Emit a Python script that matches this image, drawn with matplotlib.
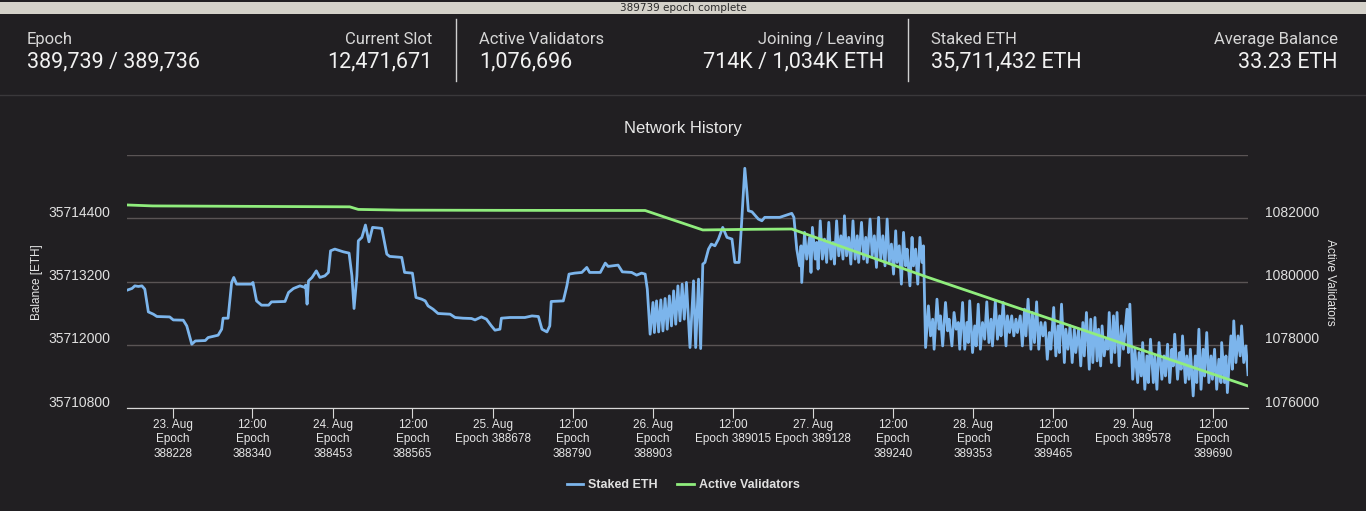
import matplotlib.pyplot as plt
from matplotlib.lines import Line2D
from matplotlib.patches import Rectangle
from matplotlib.transforms import ScaledTranslation

BG = "#211f22"
BLUE = "#7cb5ec"
GREEN = "#90ed7d"
W, H = 1366, 511

# header stats
stat_labels = ["Epoch", "Current Slot", "Active Validators", "Joining / Leaving", "Staked ETH", "Average Balance"]
stat_values = ["389,739 / 389,736", "12,471,671", "1,076,696", "714K / 1,034K ETH", "35,711,432 ETH", "33.23 ETH"]

# x axis ticks (epochs)
tick_epochs = [388228, 388340, 388453, 388565, 388678, 388790, 388903,
               389015, 389128, 389240, 389353, 389465, 389578, 389690]
tick_labels = ["23. Aug\nEpoch\n388228", "12:00\nEpoch\n388340", "24. Aug\nEpoch\n388453",
               "12:00\nEpoch\n388565", "25. Aug\nEpoch 388678", "12:00\nEpoch\n388790",
               "26. Aug\nEpoch\n388903", "12:00\nEpoch 389015", "27. Aug\nEpoch 389128",
               "12:00\nEpoch\n389240", "28. Aug\nEpoch\n389353", "12:00\nEpoch\n389465",
               "29. Aug\nEpoch 389578", "12:00\nEpoch\n389690"]

balance_ticks = [35710800, 35712000, 35713200, 35714400, 35715600]
validator_ticks = [1076000, 1078000, 1080000, 1082000, 1084000]

# Active validators
val_epoch = [388164, 388200, 388477, 388489, 388548, 388688, 388892,
             388973, 389040, 389098, 389287, 389528, 389739]
val_count = [1082420, 1082390, 1082361, 1082279, 1082257, 1082250, 1082245,
             1081630, 1081650, 1081660, 1080149, 1078307, 1076696]

# Staked ETH
eth_epoch = [
    388164, 388171, 388175, 388180, 388185, 388189, 388194, 388201, 388206, 388224,
    388229, 388243, 388248, 388255, 388260, 388274, 388278, 388292, 388297, 388299,
    388306, 388311, 388314, 388318, 388339, 388341, 388346, 388353, 388363, 388367,
    388386, 388391, 388398, 388407, 388414, 388415, 388417, 388419, 388424, 388430,
    388435, 388442, 388447, 388450, 388456, 388468, 388476, 388480, 388483, 388487,
    388489, 388494, 388499, 388504, 388509, 388522, 388529, 388533, 388550, 388554,
    388565, 388570, 388578, 388583, 388587, 388594, 388601, 388618, 388625, 388636,
    388648, 388653, 388662, 388669, 388676, 388681, 388688, 388690, 388702, 388723,
    388733, 388742, 388747, 388754, 388758, 388760, 388777, 388782, 388785, 388793,
    388803, 388810, 388814, 388829, 388836, 388840, 388854, 388860, 388873, 388880,
    388887, 388892, 388895,
    388899, 388903, 388905, 388908, 388911, 388914, 388917, 388920, 388923, 388926,
    388929, 388932, 388935, 388938, 388941, 388944, 388947, 388950, 388955, 388960,
    388963, 388967, 388970, 388973,
    388976, 388981, 388985, 388990, 388995, 389001, 389007, 389014, 389018, 389024,
    389027, 389030, 389032, 389035, 389037, 389042, 389046, 389051, 389056, 389060,
    389081, 389091, 389098, 389101, 389105,
    389109, 389111, 389112, 389116, 389119, 389123, 389125, 389127, 389131, 389133,
    389135, 389138, 389141, 389144, 389147, 389150, 389153, 389156, 389158, 389161,
    389164, 389167, 389170, 389172, 389175, 389178, 389181, 389184, 389187, 389190,
    389192, 389196, 389199, 389202, 389204, 389208, 389211, 389214, 389217, 389220,
    389223, 389226, 389229, 389232, 389235, 389238, 389241, 389244, 389246, 389249,
    389252, 389255, 389258, 389260, 389264, 389267, 389269, 389272, 389275, 389278,
    389281, 389283, 389286,
    389290, 389293, 389296, 389298, 389302, 389305, 389307, 389310, 389314, 389317,
    389319, 389323, 389326, 389329, 389332, 389334,
    389338, 389341, 389344, 389346, 389348, 389352, 389355, 389357, 389360, 389363,
    389366, 389369, 389372, 389375, 389378, 389380, 389384, 389387, 389390, 389392,
    389395, 389399, 389401, 389404, 389407, 389410, 389413, 389415, 389419, 389422,
    389425, 389427, 389430, 389434, 389436, 389439, 389442, 389445, 389448, 389451,
    389454, 389457, 389460, 389462, 389466, 389469, 389472, 389474, 389477, 389481,
    389483, 389486, 389489, 389492, 389495, 389497, 389501, 389504, 389507, 389509,
    389512, 389516, 389518, 389521, 389524, 389527, 389529, 389532, 389534, 389537,
    389540, 389542, 389544, 389547, 389550, 389552, 389555, 389558, 389561, 389564,
    389569, 389571, 389573, 389577, 389580, 389584, 389586, 389589, 389591, 389594,
    389597, 389599, 389602, 389606, 389608, 389611, 389614, 389618, 389621, 389623,
    389626, 389629, 389632, 389634, 389636, 389640, 389643, 389645, 389647, 389651,
    389653, 389656, 389658, 389662, 389665, 389667, 389670, 389673, 389676, 389678,
    389681, 389684, 389687, 389689, 389692, 389695, 389698, 389701, 389702, 389706,
    389708, 389710, 389715, 389717, 389719, 389722, 389725, 389728, 389730, 389733,
    389736, 389739,
]
eth_staked = [
    35713035, 35713068, 35713117, 35713106, 35713117, 35713055, 35712623, 35712580, 35712536, 35712528,
    35712471, 35712466, 35712357, 35712010, 35712072, 35712080, 35712137, 35712181, 35712295, 35712504,
    35712504, 35713182, 35713277, 35713150, 35713150, 35713182, 35712832, 35712751, 35712751, 35712813,
    35712821, 35712992, 35713068, 35713117, 35713087, 35713131, 35712770, 35713212, 35713277, 35713402,
    35713277, 35713307, 35713372, 35713782, 35713815, 35713763, 35713739, 35713307, 35712688, 35713307,
    35713972, 35714037, 35714271, 35713953, 35714227, 35714208, 35713720, 35713676, 35713657, 35713372,
    35713359, 35712897, 35712865, 35712832, 35712737, 35712675, 35712593, 35712580, 35712517, 35712504,
    35712498, 35712471, 35712528, 35712485, 35712357, 35712276, 35712295, 35712504, 35712517, 35712517,
    35712547, 35712536, 35712295, 35712243, 35712357, 35712821, 35712832, 35713117, 35713340, 35713359,
    35713372, 35713467, 35713372, 35713372, 35713549, 35713486, 35713511, 35713383, 35713372, 35713321,
    35713359, 35713340, 35713055,
    35712200, 35712802, 35712232, 35712832, 35712243, 35712851, 35712262, 35712878, 35712295, 35712927,
    35712357, 35713022, 35712390, 35713117, 35712452, 35713150, 35712485, 35713182, 35711947, 35713212,
    35711947, 35713245, 35711928, 35713530,
    35713562, 35713815, 35713910, 35713877, 35714005, 35714227, 35714037, 35714005, 35713562, 35713562,
    35714195, 35714892, 35715348, 35714892, 35714542, 35714523, 35714461, 35714385, 35714352, 35714417,
    35714417, 35714461, 35714493, 35714417, 35713815,
    35713497, 35713877, 35713182, 35714132, 35713625, 35714037, 35713372, 35714227, 35713625, 35713942,
    35713435, 35714352, 35713625, 35714005, 35713562, 35714322, 35713625, 35713942, 35713530, 35714352,
    35713687, 35714067, 35713625, 35714447, 35713687, 35714037, 35713530, 35714352, 35713625, 35714067,
    35713562, 35714322, 35713625, 35714037, 35713562, 35714385, 35713687, 35714067, 35713467, 35714417,
    35713625, 35714067, 35713497, 35714385, 35713562, 35713910, 35713340, 35714162, 35713562, 35713877,
    35713150, 35714132, 35713497, 35713815, 35713117, 35714037, 35713497, 35713815, 35713150, 35714037,
    35713562, 35713877, 35711947,
    35712738, 35712168, 35712485, 35711915, 35712865, 35712295, 35712548, 35711978, 35712802, 35712263,
    35712485, 35711978, 35712612, 35712295, 35712422, 35711915,
    35712802, 35711915, 35712422, 35712042, 35712833, 35711852, 35712358, 35711978, 35712770, 35711915,
    35712422, 35712105, 35712814, 35712042, 35712485, 35711978, 35712833, 35712105, 35712548, 35712168,
    35712802, 35711978, 35712548, 35712232, 35712548, 35712168, 35712485, 35712232, 35712548, 35711978,
    35712675, 35712168, 35712865, 35711915, 35712612, 35712042, 35712814, 35711915, 35712422, 35712168,
    35712422, 35711725, 35712232, 35711915, 35712707, 35711788, 35712358, 35711852, 35712770, 35711662,
    35712295, 35711915, 35712358, 35711662, 35712295, 35711852, 35712295, 35711598, 35712422, 35711788,
    35712612, 35711535, 35712485, 35711662, 35712517, 35711693, 35712295, 35711598, 35712358, 35711788,
    35712105, 35711915, 35712612, 35711662, 35712548, 35711852, 35712612, 35711598, 35712358, 35711915,
    35712675, 35711852, 35712770, 35711345, 35711915, 35711282, 35711852, 35711408, 35712042, 35711155,
    35711788, 35711282, 35712105, 35711282, 35711788, 35711155, 35712042, 35711345, 35711788, 35711408,
    35712010, 35711282, 35711915, 35711598, 35712200, 35711345, 35711852, 35711535, 35712168, 35711282,
    35711788, 35711345, 35711915, 35711029, 35711788, 35711282, 35712295, 35711155, 35711915, 35711408,
    35712232, 35711282, 35711788, 35711345, 35711915, 35711155, 35711725, 35711282, 35712042, 35711282,
    35711788, 35711092, 35712168, 35711535, 35712453, 35711662, 35712168, 35711788, 35712358, 35711662,
    35711978, 35711432,
]


def fx(px):
    return px / W


def fy(py):
    return 1 - py / H


fig = plt.figure(figsize=(13.66, 5.11), dpi=100, facecolor=BG)

# top status bar
fig.patches.append(Rectangle((0, fy(14)), 1, 12 / H, transform=fig.transFigure,
                             facecolor="#d4d1c9", edgecolor="none"))
fig.text(0.5, fy(8), "389739 epoch complete", ha="center", va="center",
         fontsize=7.5, color="#2a2a2a", family="DejaVu Sans")

# header stats
stat_x = [27, 432, 479, 884, 931, 1338]
for i, (lab, val) in enumerate(zip(stat_labels, stat_values)):
    ha = "left" if i % 2 == 0 else "right"
    fig.text(fx(stat_x[i]), fy(39), lab, ha=ha, va="center", fontsize=12,
             color="#d6d6d6", family="Roboto")
    fig.text(fx(stat_x[i]), fy(62), val, ha=ha, va="center", fontsize=15.5,
             color="#f2f2f2", family="Roboto")
for sx in [456, 908]:
    fig.add_artist(Line2D([fx(sx), fx(sx)], [fy(19), fy(81)], color="#d0d0d0", lw=1))
fig.add_artist(Line2D([0, 1], [fy(95), fy(95)], color="#3a383b", lw=1))

# chart
fig.text(0.5, fy(128), "Network History", ha="center", va="center", fontsize=12,
         color="#e8e8e8", family="Liberation Sans")

ax = fig.add_axes([fx(127), 103 / H, 1121 / W, 253 / H])
ax.set_facecolor(BG)
ax2 = ax.twinx()

ax.plot(eth_epoch, eth_staked, color=BLUE, lw=2, solid_joinstyle="round")
ax2.plot(val_epoch, val_count, color=GREEN, lw=2)

ax.set_xlim(388164, 389739)
ax.set_ylim(balance_ticks[0], balance_ticks[-1])
ax2.set_ylim(validator_ticks[0], validator_ticks[-1])

ax.set_yticks(balance_ticks, [str(v) for v in balance_ticks[:-1]] + [""])
ax2.set_yticks(validator_ticks, [str(v) for v in validator_ticks[:-1]] + [""])
ax.grid(axis="y", color="#5a5455", lw=1)
ax.set_axisbelow(True)

for a in (ax, ax2):
    for s in ("top", "left", "right"):
        a.spines[s].set_visible(False)
    a.spines["bottom"].set_color("#d8d8d8")

ax.tick_params(axis="y", length=0, pad=12, labelsize=10, labelcolor="#e0e0e0")
ax2.tick_params(axis="y", length=0, pad=12, labelsize=10, labelcolor="#e0e0e0")
for lbl in ax.get_yticklabels() + ax2.get_yticklabels():
    lbl.set_family("Liberation Sans")
    lbl.set_transform(lbl.get_transform() + ScaledTranslation(0, 0.07, fig.dpi_scale_trans))

ax.set_xticks(tick_epochs, tick_labels)
ax.tick_params(axis="x", length=7, color="#d8d8d8", pad=1, labelsize=8.5, labelcolor="#e6e6e6")
for lbl in ax.get_xticklabels():
    lbl.set_family("Liberation Sans")
    lbl.set_linespacing(1.25)

fig.text(fx(37), fy(282), "Balance [ETH]", rotation=90, ha="center", va="center",
         fontsize=8.5, color="#e6e6e6", family="Liberation Sans")
fig.text(fx(1330), fy(282), "Active Validators", rotation=270, ha="center", va="center",
         fontsize=8.5, color="#e6e6e6", family="Liberation Sans")

handles = [Line2D([], [], color=BLUE, lw=2), Line2D([], [], color=GREEN, lw=2)]
leg = fig.legend(handles, ["Staked ETH", "Active Validators"], loc="center",
                 bbox_to_anchor=(0.5, 26 / H), ncol=2, frameon=False,
                 handlelength=1.3, handletextpad=0.4, columnspacing=1.6,
                 prop={"family": "Liberation Sans", "weight": "bold", "size": 9})
for t in leg.get_texts():
    t.set_color("#e0e0e0")

fig.savefig("out.png", dpi=100, facecolor=BG)
